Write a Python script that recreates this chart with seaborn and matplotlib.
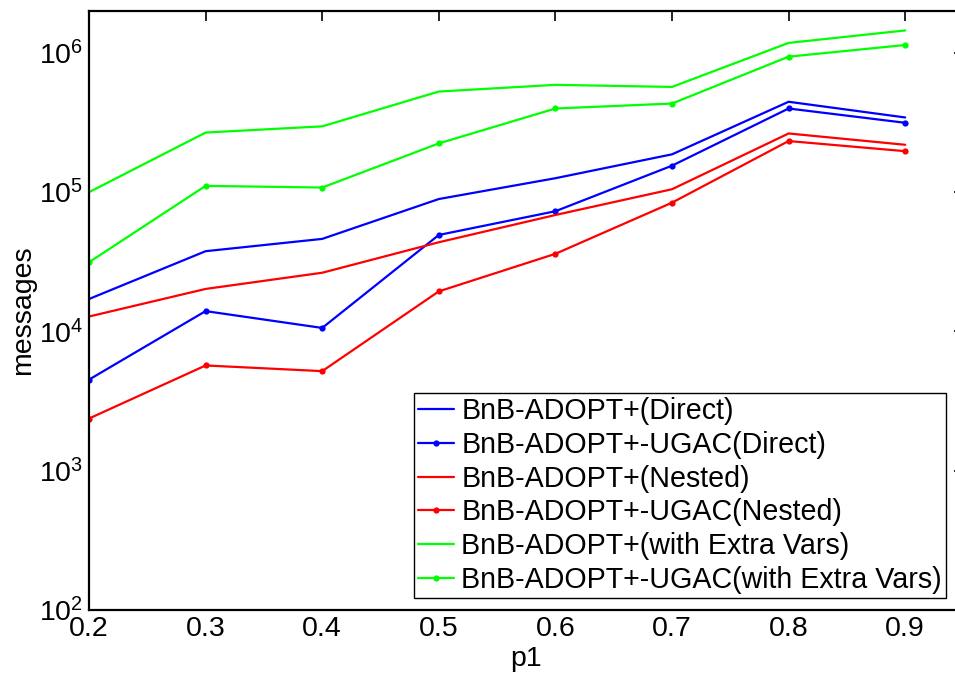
import numpy as np
import pandas as pd
import matplotlib
matplotlib.use("Agg")
import matplotlib.pyplot as plt
import seaborn as sns
from matplotlib.ticker import LogLocator, FixedLocator

p1 = [0.2, 0.3, 0.4, 0.5, 0.6, 0.7, 0.8, 0.9]

direct = [1.71e4, 3.77e4, 4.62e4, 8.93e4, 1.26e5, 1.87e5, 4.46e5, 3.44e5]
direct_ugac = [4.51e3, 1.40e4, 1.06e4, 4.93e4, 7.3e4, 1.55e5, 3.99e5, 3.15e5]
nested = [1.28e4, 2.02e4, 2.64e4, 4.37e4, 6.86e4, 1.05e5, 2.64e5, 2.19e5]
nested_ugac = [2.37e3, 5.7e3, 5.19e3, 1.94e4, 3.61e4, 8.41e4, 2.33e5, 1.97e5]
extra = [1.0e5, 2.68e5, 2.97e5, 5.28e5, 5.9e5, 5.7e5, 1.18e6, 1.45e6]
extra_ugac = [3.14e4, 1.11e5, 1.08e5, 2.24e5, 3.99e5, 4.33e5, 9.4e5, 1.14e6]

labels = ["BnB-ADOPT+(Direct)", "BnB-ADOPT+-UGAC(Direct)",
          "BnB-ADOPT+(Nested)", "BnB-ADOPT+-UGAC(Nested)",
          "BnB-ADOPT+(with Extra Vars)", "BnB-ADOPT+-UGAC(with Extra Vars)"]
series = [direct, direct_ugac, nested, nested_ugac, extra, extra_ugac]
colors = ["#0000ff", "#0000ff", "#ff0000", "#ff0000", "#00ff00", "#00ff00"]
markers = [None, "o", None, "o", None, "o"]

sns.set_style("white")
plt.rcParams["font.family"] = ["Liberation Sans", "DejaVu Sans"]
plt.rcParams["mathtext.fontset"] = "custom"
plt.rcParams["mathtext.rm"] = "Liberation Sans"
plt.rcParams["mathtext.it"] = "Liberation Sans"
plt.rcParams["text.color"] = "black"
plt.rcParams["axes.labelcolor"] = "black"
plt.rcParams["xtick.color"] = "black"
plt.rcParams["ytick.color"] = "black"

fig = plt.figure(figsize=(9.55, 6.75), dpi=100)
ax = fig.add_axes([89 / 955, 65 / 675, 874.5 / 955, 599 / 675])

for lab, vals, c, m in zip(labels, series, colors, markers):
    df = pd.DataFrame({"p1": p1, "messages": vals})
    sns.lineplot(data=df, x="p1", y="messages", ax=ax, color=c, linewidth=1.6,
                 marker=m, markersize=4.5, markeredgewidth=0, label=lab)

ax.set_yscale("log")
ax.set_xlim(0.2, 0.95)
ax.set_ylim(1e2, 2e6)
ax.xaxis.set_major_locator(FixedLocator(p1))
ax.set_xticklabels([f"{v:.1f}" for v in p1])
ax.yaxis.set_major_locator(LogLocator(base=10, numticks=10))
ax.yaxis.set_minor_locator(LogLocator(base=10, subs=np.arange(2, 10), numticks=10))

ax.tick_params(which="both", direction="in", top=True, right=True,
               labelsize=20.5, color="black", labelcolor="black", width=1.2, pad=4)
ax.tick_params(which="major", length=7)
ax.tick_params(which="minor", length=3.5)
ax.tick_params(axis="x", which="minor", bottom=False, top=False)

for s in ax.spines.values():
    s.set_visible(True)
    s.set_color("black")
    s.set_linewidth(1.6)

ax.set_xlabel("p1", fontsize=20.5, labelpad=3, color="black")
ax.set_ylabel("messages", fontsize=20.5, labelpad=2, color="black")

leg = ax.legend(loc="upper left", bbox_to_anchor=(325 / 874.5, 217 / 599),
                borderaxespad=0, fontsize=20.6, frameon=True, fancybox=False,
                edgecolor="black", framealpha=1, handlelength=1.25,
                handletextpad=0.25, labelspacing=0.2, borderpad=0.15)
leg.get_frame().set_linewidth(1.0)
for t in leg.get_texts():
    t.set_color("black")

fig.savefig("out.png", dpi=100)
